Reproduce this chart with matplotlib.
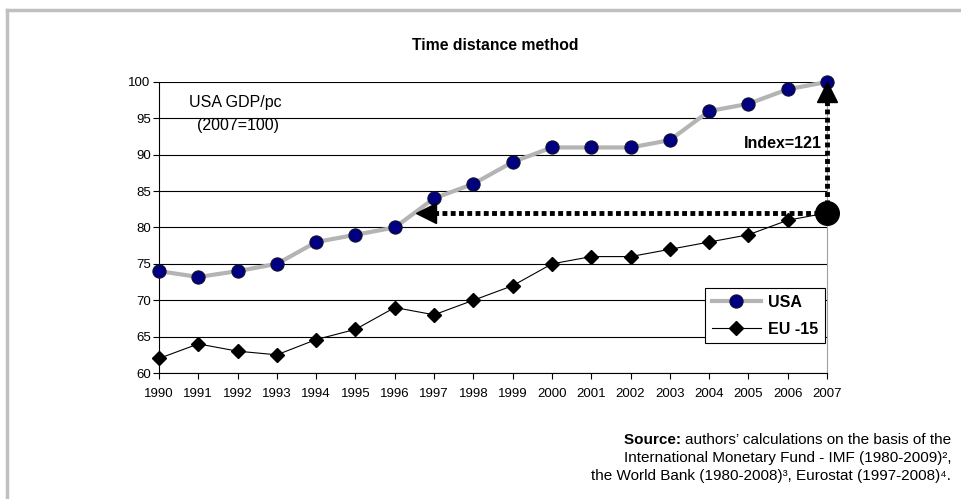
import numpy as np
from matplotlib import pyplot as plt
from matplotlib.lines import Line2D

plt.rcParams['font.family'] = ['Liberation Sans', 'DejaVu Sans']

years = list(range(1990, 2008))
usa = [74, 73.2, 74, 75, 78, 79, 80, 84, 86, 89, 91, 91, 91, 92, 96, 97, 99, 100]
eu15 = [62, 64, 63, 62.5, 64.6, 66, 69, 68, 70, 72, 75, 76, 76, 77, 78, 79, 81, 82]
yticks = [60, 65, 70, 75, 80, 85, 90, 95, 100]

fig = plt.figure(figsize=(9.62, 4.99), dpi=100)
ax = fig.add_axes([0.1653, 0.2525, 0.6944, 0.5832])

for t in yticks:
    ax.axhline(t, color='black', lw=0.8, zorder=1)

ax.plot(years, usa, '-', color='#b4b4b4', lw=3, marker='o', ms=9.5,
        mfc='#000080', mec='#101030', mew=0.8, label='USA', zorder=4,
        clip_on=False)
ax.plot(years, eu15, '-', color='black', lw=0.8, marker='D', ms=7,
        mfc='black', mec='black', label='EU -15', zorder=4, clip_on=False)

# time distance arrows
level = eu15[-1]
cross = np.interp(level, usa[6:], years[6:])
ax.plot([years[-1], cross + 0.45], [level, level], color='black', lw=3.5,
        linestyle=(0, (1, 0.7)), zorder=5, clip_on=False)
ax.plot([cross + 0.3], [level], marker='<', ms=15, color='black', zorder=6,
        clip_on=False)
ax.plot([years[-1], years[-1]], [level, usa[-1] - 2], color='black', lw=3.5,
        linestyle=(0, (1, 0.7)), zorder=5, clip_on=False)
ax.plot([years[-1]], [usa[-1] - 1.4], marker='^', ms=15, color='black',
        zorder=6, clip_on=False)
ax.plot([years[-1]], [level], marker='o', ms=17, color='black', zorder=7,
        clip_on=False)

ax.text(0.9925, 0.79, 'Index=121', transform=ax.transAxes, ha='right',
        va='center', fontsize=11.5, fontweight='bold', zorder=8)
ax.text(0.045, 0.928, 'USA GDP/pc', transform=ax.transAxes, ha='left',
        va='center', fontsize=11.5)
ax.text(0.057, 0.849, '(2007=100)', transform=ax.transAxes, ha='left',
        va='center', fontsize=11.5)

ax.set_xlim(1990, 2007)
ax.set_ylim(60, 100)
ax.set_xticks(years)
ax.set_yticks(yticks)
ax.tick_params(labelsize=9.5, length=4, width=0.8, direction='out', pad=2)
ax.tick_params(axis='x', pad=7)
ax.spines['top'].set_visible(False)
ax.spines['right'].set_color('#a0a0a0')
ax.spines['right'].set_linewidth(0.8)
ax.spines['left'].set_linewidth(0.8)
ax.spines['bottom'].set_linewidth(0.8)

leg = ax.legend(loc='lower right', bbox_to_anchor=(0.997, 0.103),
                prop={'weight': 'bold', 'size': 11.5}, borderaxespad=0,
                fancybox=False, edgecolor='black', framealpha=1,
                handlelength=3.1, handletextpad=0.45, borderpad=0.4,
                labelspacing=0.75)
leg.get_frame().set_linewidth(0.8)

fig.text(0.5146, 1 - 46 / 499, 'Time distance method', ha='center',
         va='center', fontsize=11.3, fontweight='bold')

# source note
t1 = fig.text(0.9886, 1 - 440 / 499, 'authors\u2019 calculations on the basis of the',
              ha='right', va='center', fontsize=11)
fig.text(0.9886, 1 - 458 / 499,
         'International Monetary Fund - IMF (1980-2009)\u00b2,',
         ha='right', va='center', fontsize=11)
fig.text(0.9886, 1 - 476 / 499,
         'the World Bank (1980-2008)\u00b3, Eurostat (1997-2008)\u2074.',
         ha='right', va='center', fontsize=11)
fig.canvas.draw()
ax.annotate('Source: ', xy=(0, 0.5), xycoords=t1, ha='right', va='center',
            fontsize=11, fontweight='bold')

# frame
fig.add_artist(Line2D([7 / 962, 1], [1 - 10 / 499, 1 - 10 / 499],
                      transform=fig.transFigure, color='#c0c0c0', lw=2.5))
fig.add_artist(Line2D([7 / 962, 7 / 962], [0, 1 - 10 / 499],
                      transform=fig.transFigure, color='#c0c0c0', lw=2.5))

fig.savefig('out.png', dpi=100)
